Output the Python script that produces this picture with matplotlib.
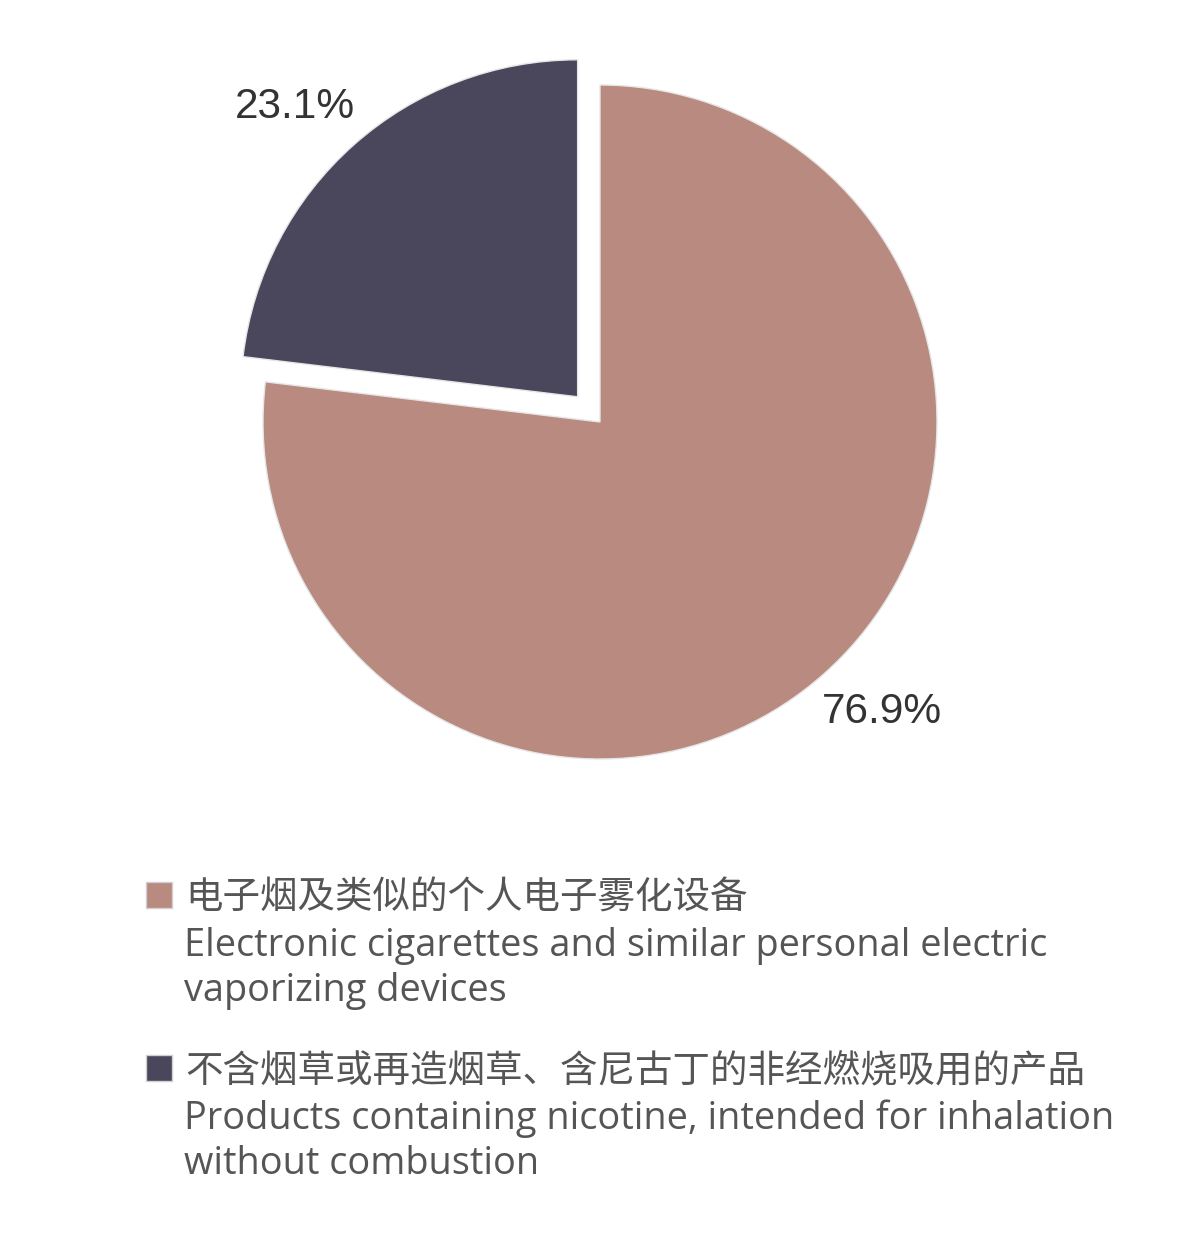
import matplotlib
matplotlib.use("Agg")
import numpy as np
import matplotlib.pyplot as plt
from matplotlib.patches import Rectangle

plt.rcParams['font.family'] = ['Liberation Sans', 'Noto Sans CJK SC', 'DejaVu Sans']

# 数据
shares = [76.9, 23.1]
colors = ["#B98A80", "#4A475C"]
labels_cn = [
    "电子烟及类似的个人电子雾化设备",
    "不含烟草或再造烟草、含尼古丁的非经燃烧吸用的产品",
]
labels_en = [
    "Electronic cigarettes and similar personal electric\nvaporizing devices",
    "Products containing nicotine, intended for inhalation\nwithout combustion",
]
explode = [0, 0.1]

W, H = 1200, 1243
fig = plt.figure(figsize=(W / 100, H / 100), dpi=100)

# 饼图位置：中心(600,422)，半径337像素
R = 337
cx, cy = 600, 422
half = 1.2 * R
ax = fig.add_axes([(cx - half) / W, (H - cy - half) / H, 2 * half / W, 2 * half / H])
wedges, texts, autotexts = ax.pie(
    shares, colors=colors, explode=explode, startangle=90, counterclock=False,
    autopct="%.1f%%", pctdistance=1.2,
    wedgeprops=dict(edgecolor="#e6e6e6", linewidth=1.0),
    textprops=dict(fontsize=30.5, color="#333333"),
)
# 标签绕扇形中心逆时针转一点
rot = np.deg2rad(2.7)
for w, t in zip(wedges, autotexts):
    x0, y0 = w.center
    x, y = t.get_position()
    dx, dy = x - x0, y - y0
    t.set_position((x0 + dx * np.cos(rot) - dy * np.sin(rot),
                    y0 + dx * np.sin(rot) + dy * np.cos(rot)))
ax.set_xlim(-1.2, 1.2)
ax.set_ylim(-1.2, 1.2)
ax.set_aspect("equal")
ax.axis("off")

# 图例（手动）
block_top = [909, 1082]
for i in range(len(shares)):
    b = block_top[i]
    fig.patches.append(Rectangle((146 / W, 1 - (b - 1) / H), 26 / W, 26 / H,
                                 transform=fig.transFigure, facecolor=colors[i],
                                 edgecolor="#d0d0d0", linewidth=1.0))
    fig.text(185 / W, 1 - b / H, labels_cn[i], fontsize=27, color="#555555",
             family=['Noto Sans CJK SC', 'DejaVu Sans'], va="baseline", ha="left")
    en_lines = labels_en[i].split("\n")
    for k, line in enumerate(en_lines):
        fig.text(184 / W, 1 - (b + 47 + 45 * k) / H, line, fontsize=27.3, color="#555555",
                 family=['Open Sans', 'DejaVu Sans'], va="baseline", ha="left")

fig.savefig("out.png", dpi=100, facecolor="white")
